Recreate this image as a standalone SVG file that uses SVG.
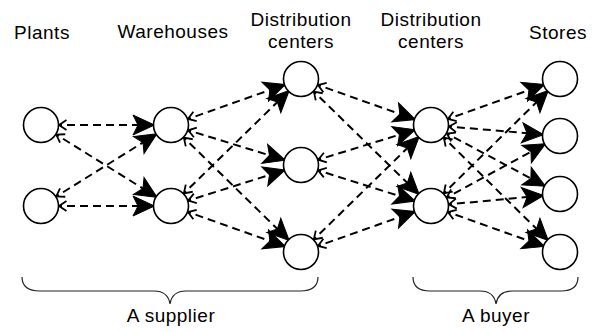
<svg xmlns="http://www.w3.org/2000/svg" width="602" height="332" viewBox="0 0 602 332">
  <style>
    .lbl { font-family: "Liberation Sans", Arial, sans-serif; font-size: 19px; letter-spacing: 0.5px; fill: #000; text-anchor: middle; }
    .node { fill: #fff; stroke: #000; stroke-width: 1.6; }
    .edge { stroke: #000; stroke-width: 2; stroke-dasharray: 8 5; fill: none; marker-start: url(#tail); marker-end: url(#head); }
    .brace { fill: none; stroke: #222; stroke-width: 1.2; }
  </style>
  <defs>
    <!-- edges run centre to centre; markers sit on the circle rims (r = 17.5) -->
    <marker id="head" markerUnits="userSpaceOnUse" orient="auto" refX="0" refY="0" markerWidth="1" markerHeight="1" overflow="visible">
      <path d="M-16.5,0 L-38,-10 L-33,0 L-38,10 Z" fill="#000" stroke="#000" stroke-width="1" stroke-linejoin="miter"/>
    </marker>
    <marker id="tail" markerUnits="userSpaceOnUse" orient="auto" refX="0" refY="0" markerWidth="1" markerHeight="1" overflow="visible">
      <path d="M25.5,-5 L18,0 L25.5,5" fill="none" stroke="#000" stroke-width="1.8"/>
    </marker>
  </defs>

  <!-- column headings -->
  <g id="headings">
    <text class="lbl" x="42" y="39">Plants</text>
    <text class="lbl" x="173" y="38">Warehouses</text>
    <text class="lbl" x="301" y="26">Distribution</text>
    <text class="lbl" x="301" y="48">centers</text>
    <text class="lbl" x="431" y="26">Distribution</text>
    <text class="lbl" x="431" y="48">centers</text>
    <text class="lbl" x="558" y="39">Stores</text>
  </g>

  <g id="connectors">
    <!-- plants to warehouses -->
    <line class="edge" x1="41" y1="125" x2="171" y2="125"/>
    <line class="edge" x1="41" y1="125" x2="171" y2="206"/>
    <line class="edge" x1="41" y1="206" x2="171" y2="125"/>
    <line class="edge" x1="41" y1="206" x2="171" y2="206"/>
    <!-- warehouses to supplier distribution centers -->
    <line class="edge" x1="171" y1="125" x2="301" y2="79"/>
    <line class="edge" x1="171" y1="125" x2="301" y2="165"/>
    <line class="edge" x1="171" y1="125" x2="301" y2="252"/>
    <line class="edge" x1="171" y1="206" x2="301" y2="79"/>
    <line class="edge" x1="171" y1="206" x2="301" y2="165"/>
    <line class="edge" x1="171" y1="206" x2="301" y2="252"/>
    <!-- supplier distribution centers to buyer distribution centers -->
    <line class="edge" x1="301" y1="79" x2="431" y2="125"/>
    <line class="edge" x1="301" y1="79" x2="431" y2="206"/>
    <line class="edge" x1="301" y1="165" x2="431" y2="125"/>
    <line class="edge" x1="301" y1="165" x2="431" y2="206"/>
    <line class="edge" x1="301" y1="252" x2="431" y2="125"/>
    <line class="edge" x1="301" y1="252" x2="431" y2="206"/>
    <!-- buyer distribution centers to stores -->
    <line class="edge" x1="431" y1="125" x2="560" y2="79"/>
    <line class="edge" x1="431" y1="125" x2="560" y2="136"/>
    <line class="edge" x1="431" y1="125" x2="560" y2="194"/>
    <line class="edge" x1="431" y1="125" x2="560" y2="252"/>
    <line class="edge" x1="431" y1="206" x2="560" y2="79"/>
    <line class="edge" x1="431" y1="206" x2="560" y2="136"/>
    <line class="edge" x1="431" y1="206" x2="560" y2="194"/>
    <line class="edge" x1="431" y1="206" x2="560" y2="252"/>
  </g>

  <g id="plant-1"><circle class="node" cx="41" cy="125" r="17.5"/></g>
  <g id="plant-2"><circle class="node" cx="41" cy="206" r="17.5"/></g>
  <g id="warehouse-1"><circle class="node" cx="171" cy="125" r="17.5"/></g>
  <g id="warehouse-2"><circle class="node" cx="171" cy="206" r="17.5"/></g>
  <g id="sdc-1"><circle class="node" cx="301" cy="79" r="17.5"/></g>
  <g id="sdc-2"><circle class="node" cx="301" cy="165" r="17.5"/></g>
  <g id="sdc-3"><circle class="node" cx="301" cy="252" r="17.5"/></g>
  <g id="bdc-1"><circle class="node" cx="431" cy="125" r="17.5"/></g>
  <g id="bdc-2"><circle class="node" cx="431" cy="206" r="17.5"/></g>
  <g id="store-1"><circle class="node" cx="560" cy="79" r="17.5"/></g>
  <g id="store-2"><circle class="node" cx="560" cy="136" r="17.5"/></g>
  <g id="store-3"><circle class="node" cx="560" cy="194" r="17.5"/></g>
  <g id="store-4"><circle class="node" cx="560" cy="252" r="17.5"/></g>

  <!-- organisation braces -->
  <g id="supplier">
    <path class="brace" d="M22,277 Q22,291 40,291 L154,291 Q168,291 170,304 Q172,291 186,291 L300,291 Q318,291 318,277"/>
    <text class="lbl" x="171" y="322">A supplier</text>
  </g>
  <g id="buyer">
    <path class="brace" d="M413,277 Q413,291 430,291 L480,291 Q494,291 496,304 Q498,291 512,291 L561,291 Q578,291 578,277"/>
    <text class="lbl" x="496" y="322">A buyer</text>
  </g>
</svg>
